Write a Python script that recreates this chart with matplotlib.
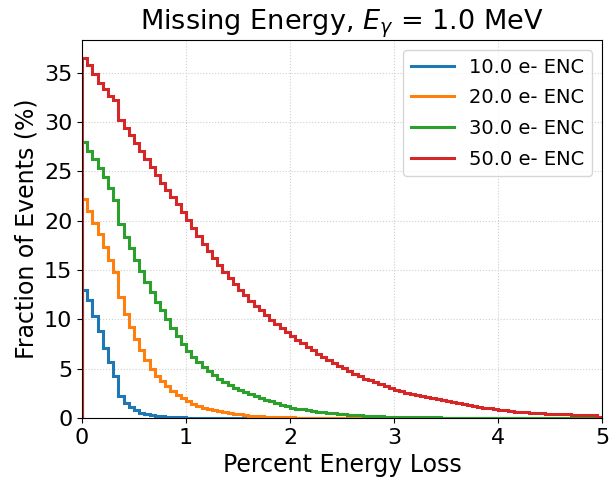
import numpy as np
import matplotlib
matplotlib.use("Agg")
import matplotlib.pyplot as plt

bin_edges = np.round(np.arange(0, 5.0001, 0.05), 3)

enc_10 = [13.0, 12.0, 10.3, 8.8, 7.1, 5.7, 4.3, 2.2, 1.5, 1.1,
          0.8, 0.55, 0.4, 0.3, 0.22, 0.16, 0.12, 0.09, 0.07, 0.05,
          0.04, 0.03, 0.03, 0.02, 0.02, 0.02, 0.01, 0.01, 0.01, 0.01,
          0.01, 0.01, 0.0, 0.0, 0.0, 0.0, 0.0, 0.0, 0.0, 0.0,
          0.0, 0.0, 0.0, 0.0, 0.0, 0.0, 0.0, 0.0, 0.0, 0.0,
          0.0, 0.0, 0.0, 0.0, 0.0, 0.0, 0.0, 0.0, 0.0, 0.0,
          0.0, 0.0, 0.0, 0.0, 0.0, 0.0, 0.0, 0.0, 0.0, 0.0,
          0.0, 0.0, 0.0, 0.0, 0.0, 0.0, 0.0, 0.0, 0.0, 0.0,
          0.0, 0.0, 0.0, 0.0, 0.0, 0.0, 0.0, 0.0, 0.0, 0.0,
          0.0, 0.0, 0.0, 0.0, 0.0, 0.0, 0.0, 0.0, 0.0, 0.0]

enc_20 = [22.2, 21.0, 19.8, 18.6, 17.3, 16.0, 14.8, 12.3, 10.5, 9.2,
          8.0, 6.9, 5.9, 5.0, 4.3, 3.7, 3.2, 2.7, 2.3, 2.0,
          1.7, 1.45, 1.25, 1.05, 0.9, 0.78, 0.67, 0.57, 0.48, 0.42,
          0.36, 0.3, 0.25, 0.21, 0.17, 0.14, 0.11, 0.09, 0.07, 0.06,
          0.05, 0.04, 0.04, 0.03, 0.03, 0.02, 0.02, 0.02, 0.01, 0.01,
          0.01, 0.01, 0.01, 0.0, 0.0, 0.0, 0.0, 0.0, 0.0, 0.0,
          0.0, 0.0, 0.0, 0.0, 0.0, 0.0, 0.0, 0.0, 0.0, 0.0,
          0.0, 0.0, 0.0, 0.0, 0.0, 0.0, 0.0, 0.0, 0.0, 0.0,
          0.0, 0.0, 0.0, 0.0, 0.0, 0.0, 0.0, 0.0, 0.0, 0.0,
          0.0, 0.0, 0.0, 0.0, 0.0, 0.0, 0.0, 0.0, 0.0, 0.0]

enc_30 = [28.0, 27.1, 26.2, 25.3, 24.4, 23.3, 22.1, 19.7, 18.3, 17.2,
          16.0, 14.9, 13.8, 12.8, 11.8, 10.9, 10.0, 9.1, 8.3, 7.5,
          6.8, 6.2, 5.7, 5.2, 4.75, 4.35, 4.0, 3.65, 3.35, 3.05,
          2.8, 2.6, 2.4, 2.2, 2.0, 1.85, 1.7, 1.5, 1.35, 1.2,
          1.05, 0.95, 0.88, 0.8, 0.72, 0.65, 0.58, 0.52, 0.47, 0.42,
          0.38, 0.34, 0.3, 0.27, 0.24, 0.21, 0.19, 0.17, 0.15, 0.13,
          0.11, 0.1, 0.09, 0.08, 0.07, 0.06, 0.06, 0.05, 0.05, 0.04,
          0.04, 0.04, 0.03, 0.03, 0.03, 0.03, 0.02, 0.02, 0.02, 0.02,
          0.02, 0.02, 0.01, 0.01, 0.01, 0.01, 0.01, 0.01, 0.01, 0.01,
          0.01, 0.01, 0.01, 0.01, 0.0, 0.0, 0.0, 0.0, 0.0, 0.0]

enc_50 = [36.5, 35.8, 34.9, 34.0, 33.3, 32.6, 32.2, 30.2, 29.4, 28.7,
          27.9, 27.1, 26.2, 25.4, 24.6, 23.8, 23.1, 22.4, 21.7, 20.9,
          20.1, 19.3, 18.4, 17.6, 16.9, 16.2, 15.5, 14.8, 14.2, 13.6,
          13.0, 12.5, 11.9, 11.4, 10.9, 10.4, 9.9, 9.5, 9.1, 8.7,
          8.3, 7.9, 7.6, 7.2, 6.9, 6.5, 6.2, 5.9, 5.6, 5.3,
          5.05, 4.8, 4.5, 4.25, 4.0, 3.8, 3.6, 3.4, 3.2, 3.0,
          2.85, 2.7, 2.55, 2.45, 2.35, 2.25, 2.15, 2.05, 1.95, 1.85,
          1.7, 1.6, 1.5, 1.4, 1.3, 1.2, 1.12, 1.05, 0.97, 0.9,
          0.82, 0.76, 0.7, 0.65, 0.6, 0.56, 0.52, 0.5, 0.47, 0.45,
          0.42, 0.4, 0.38, 0.36, 0.35, 0.34, 0.33, 0.32, 0.3, 0.15]

series = [("10.0 e- ENC", enc_10, "#1f77b4"),
          ("20.0 e- ENC", enc_20, "#ff7f0e"),
          ("30.0 e- ENC", enc_30, "#2ca02c"),
          ("50.0 e- ENC", enc_50, "#d62728")]

fig = plt.figure(figsize=(6.1, 4.83), dpi=100)
ax = fig.add_axes([0.1344, 0.1346, 0.8525, 0.7824])

for label, vals, col in series:
    ax.stairs(vals, bin_edges, color=col, linewidth=2.2, label=label)

ax.set_xlim(0, 5)
ax.set_ylim(0, 38.3)
ax.set_xticks([0, 1, 2, 3, 4, 5])
ax.set_yticks([0, 5, 10, 15, 20, 25, 30, 35])
ax.tick_params(labelsize=16)
ax.grid(True, linestyle=":", color="#cfcfcf", linewidth=0.8)
ax.set_axisbelow(True)
ax.set_xlabel("Percent Energy Loss", fontsize=17)
ax.set_ylabel("Fraction of Events (%)", fontsize=17)
ax.set_title(r"Missing Energy, $E_\gamma$ = 1.0 MeV", fontsize=19.5)
ax.legend(loc="upper right", fontsize=14, handlelength=2.2, labelspacing=0.6)

fig.savefig("out.png", dpi=100)
